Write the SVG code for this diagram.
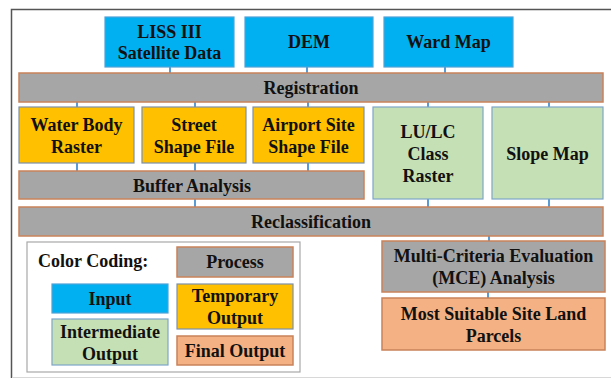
<svg xmlns="http://www.w3.org/2000/svg" width="611" height="380" viewBox="0 0 611 380">
<style>
text{font-family:"Liberation Serif","Times New Roman",serif;font-weight:bold;font-size:18px;fill:#111;text-anchor:middle}
.in{fill:#00B0F0;stroke:#4FA3D8;stroke-width:1.2}
.pr{fill:#A6A6A6;stroke:#C8835A;stroke-width:1.5}
.tmp{fill:#FFC000;stroke:#7E90A8;stroke-width:1.2}
.mid{fill:#C5E0B4;stroke:#7DA6C8;stroke-width:1.2}
.fin{fill:#F4B183;stroke:#C8835A;stroke-width:1.5}
.c{stroke:#5B9BD5;stroke-width:2;fill:none}
</style>
<rect width="611" height="380" fill="#fff"/>
<g id="frame">
<path d="M611 9.5H11.5V378" fill="none" stroke="#555" stroke-width="1.5"/>
<path d="M12 377.5H611" fill="none" stroke="#d8d8d8" stroke-width="1"/>
</g>
<g id="connectors">
<path class="c" d="M170 67V73M307 67V73M445 67V73M77 102V107M195 102V107M308 102V107M428 102V107M549 102V107M77 163V171M195 163V171M308 163V171M195 199V207M428 199V207M549 199V207M489 236V241M488 292V298"/>
</g>
<g id="liss"><rect class="in" x="105" y="17" width="129" height="50"/><text x="169.5" y="37.5">LISS III</text><text x="169.5" y="58.5">Satellite Data</text></g>
<g id="dem"><rect class="in" x="245" y="17" width="128" height="50"/><text x="309" y="48">DEM</text></g>
<g id="ward"><rect class="in" x="384" y="17" width="129" height="50"/><text x="448.5" y="48">Ward Map</text></g>
<g id="registration"><rect class="pr" x="19" y="73" width="584" height="29"/><text x="311" y="94">Registration</text></g>
<g id="water"><rect class="tmp" x="19" y="107" width="115" height="56"/><text x="76.5" y="130.5">Water Body</text><text x="76.5" y="152.5">Raster</text></g>
<g id="street"><rect class="tmp" x="142" y="107" width="104" height="56"/><text x="194" y="130.5">Street</text><text x="194" y="152.5">Shape File</text></g>
<g id="airport"><rect class="tmp" x="253" y="107" width="111" height="56"/><text x="308.5" y="130.5">Airport Site</text><text x="308.5" y="152.5">Shape File</text></g>
<g id="lulc"><rect class="mid" x="373" y="107" width="110" height="92"/><text x="428" y="137.5">LU/LC</text><text x="428" y="159.5">Class</text><text x="428" y="181.5">Raster</text></g>
<g id="slope"><rect class="mid" x="492" y="107" width="111" height="92"/><text x="547.5" y="160">Slope Map</text></g>
<g id="buffer"><rect class="pr" x="19" y="171" width="345" height="28"/><text x="192" y="191.5">Buffer Analysis</text></g>
<g id="reclass"><rect class="pr" x="19" y="207" width="584" height="29"/><text x="311" y="227.5">Reclassification</text></g>
<g id="mce"><rect class="pr" x="382" y="241" width="223" height="51"/><text x="493.5" y="261.5">Multi-Criteria Evaluation</text><text x="493.5" y="283.5">(MCE) Analysis</text></g>
<g id="final"><rect class="fin" x="382" y="298" width="223" height="52"/><text x="493.5" y="319.5">Most Suitable Site Land</text><text x="493.5" y="341.5">Parcels</text></g>
<g id="legend">
<rect x="27" y="242" width="273" height="130" fill="#fff" stroke="#A8A8A8" stroke-width="1.2"/>
<text x="38" y="266.5" style="text-anchor:start">Color Coding:</text>
<rect class="pr" x="177" y="247" width="116" height="30"/><text x="235" y="268">Process</text>
<rect class="in" x="52" y="284" width="116" height="29"/><text x="110" y="304.5">Input</text>
<rect class="tmp" x="177" y="284" width="116" height="45"/><text x="235" y="301.5">Temporary</text><text x="235" y="323.5">Output</text>
<rect class="mid" x="52" y="319" width="116" height="46"/><text x="110" y="337.5">Intermediate</text><text x="110" y="359.5">Output</text>
<rect class="fin" x="177" y="336" width="116" height="29"/><text x="235" y="356.5">Final Output</text>
</g>
</svg>
